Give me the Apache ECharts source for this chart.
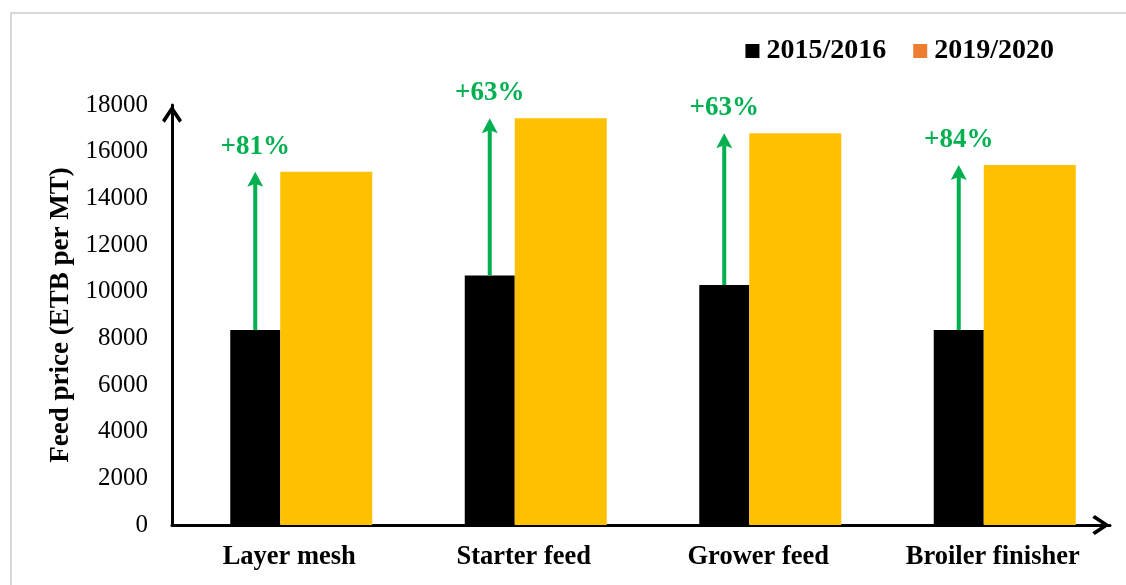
<!DOCTYPE html>
<html>
<head>
<meta charset="utf-8">
<title>Feed price</title>
<script src="https://cdn.jsdelivr.net/npm/echarts@6/dist/echarts.min.js"></script>
<style>
  html, body { margin: 0; padding: 0; background: #fff; }
  #chart { width: 1126px; height: 585px; }
</style>
</head>
<body>
<div id="chart"></div>
<script>
// data
var categories = ['Layer mesh', 'Starter feed', 'Grower feed', 'Broiler finisher']
var price2015 = [8360, 10690, 10290, 8360]
var price2019 = [15140, 17430, 16790, 15430]
var changeLabels = ['+81%', '+63%', '+63%', '+84%']
var seriesNames = ['2015/2016', '2019/2020']

var font = '"Liberation Serif", "Times New Roman", serif'
var green = '#00B050'

// bar widths (px); an empty bar in front pushes the pair right of the category centre
var spacerW = 24
var blackW = 50
var orangeW = 92
var arrowShift = -(spacerW + blackW + orangeW) / 2 + spacerW + blackW / 2

var chevron = 'path://M10,0 L20,15 L17.2,17.5 L10,6.5 L2.8,17.5 L0,15 Z'

var arrowData = []
for (var i = 0; i < categories.length; i++) {
  arrowData.push([i, price2015[i], price2019[i]])
}

function renderArrow(params, api) {
  var idx = api.value(0)
  var from = api.coord([idx, api.value(1)])
  var to = api.coord([idx, api.value(2)])
  var x = from[0] + arrowShift
  var head = 15
  return {
    type: 'group',
    children: [
      {
        type: 'line',
        shape: { x1: x, y1: from[1], x2: x, y2: to[1] + head - 3 },
        style: { stroke: green, lineWidth: 4 }
      },
      {
        type: 'polygon',
        shape: { points: [[x, to[1]], [x + 8, to[1] + head], [x, to[1] + head - 3], [x - 8, to[1] + head]] },
        style: { fill: green }
      },
      {
        type: 'text',
        x: x,
        y: to[1] - 25,
        style: {
          text: changeLabels[idx],
          fill: green,
          font: 'bold 27px ' + font,
          align: 'center',
          verticalAlign: 'middle'
        }
      }
    ]
  }
}

var chart = echarts.init(document.getElementById('chart'))

var option = {
  animation: false,
  backgroundColor: '#fff',
  graphic: [{
    type: 'rect',
    silent: true,
    z: -10,
    shape: { x: 11, y: 13, width: 1300, height: 800 },
    style: { fill: 'none', stroke: '#d9d9d9', lineWidth: 2 }
  }],
  legend: {
    top: 32,
    right: 67,
    icon: 'rect',
    itemWidth: 14,
    itemHeight: 14,
    itemGap: 27,
    textStyle: { fontFamily: font, fontSize: 28, fontWeight: 'bold', color: '#000', padding: [0, 0, 0, 2] },
    data: [
      { name: seriesNames[0], itemStyle: { color: '#000' } },
      { name: seriesNames[1], itemStyle: { color: '#ED7D31' } }
    ]
  },
  grid: { left: 172, right: 16, top: 105, bottom: 60, containLabel: false },
  xAxis: {
    type: 'category',
    data: categories,
    axisLine: {
      show: true,
      symbol: ['none', chevron],
      symbolSize: [20, 18],
      symbolOffset: [0, -9],
      lineStyle: { color: '#000', width: 3 }
    },
    axisTick: { show: false },
    axisLabel: { fontFamily: font, fontSize: 26.5, fontWeight: 'bold', color: '#000', margin: 19 }
  },
  yAxis: {
    type: 'value',
    min: 0,
    max: 18000,
    interval: 2000,
    name: 'Feed price (ETB per MT)',
    nameLocation: 'middle',
    nameGap: 85,
    nameTextStyle: { fontFamily: font, fontSize: 27, fontWeight: 'bold', color: '#000' },
    axisLine: {
      show: true,
      symbol: ['none', chevron],
      symbolSize: [20, 18],
      symbolOffset: [0, -9],
      lineStyle: { color: '#000', width: 3 }
    },
    axisTick: { show: false },
    splitLine: { show: false },
    axisLabel: {
      fontFamily: font,
      fontSize: 25,
      color: '#000',
      margin: 24,
      formatter: function (v) { return String(v) }
    }
  },
  series: [
    {
      name: 'spacer',
      type: 'bar',
      silent: true,
      barWidth: spacerW,
      barGap: 0,
      itemStyle: { color: 'rgba(0,0,0,0)' },
      data: [0, 0, 0, 0]
    },
    {
      name: seriesNames[0],
      type: 'bar',
      barWidth: blackW,
      barGap: 0,
      itemStyle: { color: '#000' },
      data: price2015
    },
    {
      name: seriesNames[1],
      type: 'bar',
      barWidth: orangeW,
      barGap: 0,
      itemStyle: { color: '#FFC000' },
      data: price2019
    },
    {
      name: 'change',
      type: 'custom',
      silent: true,
      z: 5,
      renderItem: renderArrow,
      encode: { x: 0, y: [1, 2] },
      data: arrowData
    }
  ]
}
chart.setOption(option)
</script>
</body>
</html>
